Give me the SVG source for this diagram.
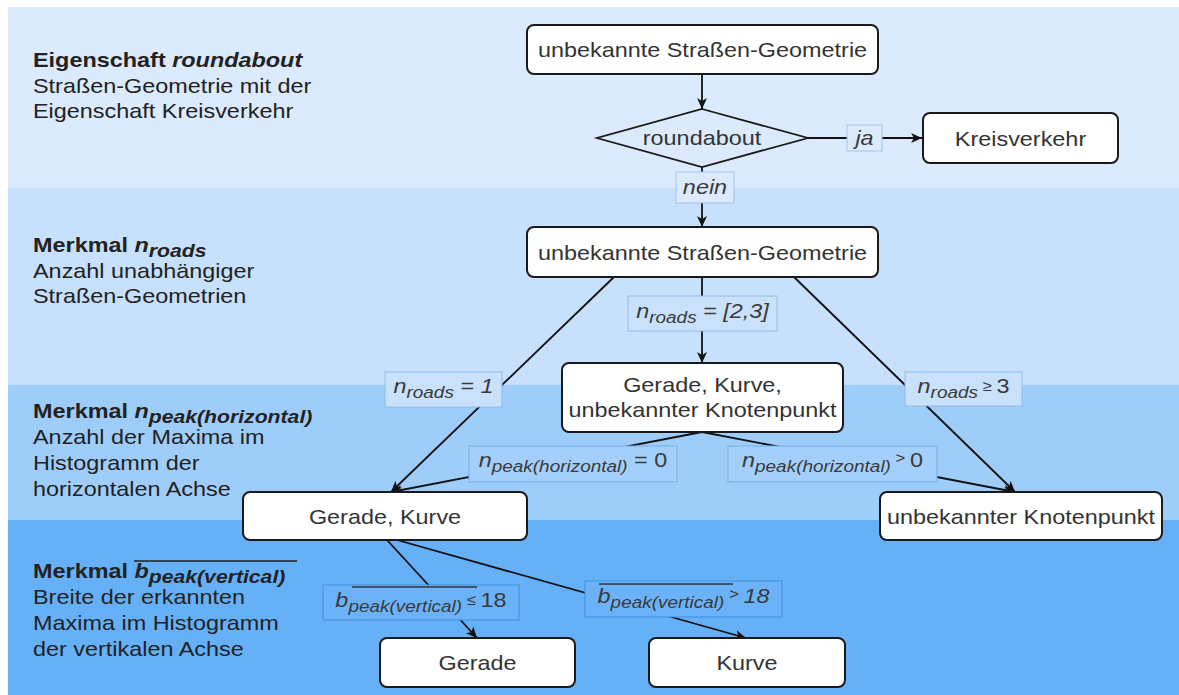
<svg xmlns="http://www.w3.org/2000/svg" width="1179" height="695" viewBox="0 0 1179 695">
  <style>
    .f{font-family:"Liberation Sans",Arial,sans-serif}
    .nt{font-size:21px;fill:#333;text-anchor:middle}
    .lt{font-size:21px;fill:#3a3a3a;font-style:italic;text-anchor:middle}
    .side{font-size:21px;fill:#222}
    .b{font-weight:bold}
    .i{font-style:italic}
    .up{font-style:normal}
    .ls{font-size:17px}
    .ss{font-size:19px}
    .rel{font-size:15px}
    .box{fill:#fff;stroke:#1a1a1a;stroke-width:2}
    .conn line{stroke:#111;stroke-width:1.8;fill:none}
    .lb1{fill:#dbeafc;stroke:#9fc4ec;stroke-width:1}
    .lb2{fill:#c9e1fa;stroke:#92bce9;stroke-width:1}
    .lb3{fill:#a3cffa;stroke:#77afea;stroke-width:1}
    .lb4{fill:#6bb2f8;stroke:#3f8fe3;stroke-width:1}
    .ov{stroke:#333;stroke-width:1.5}
  </style>
  <defs>
    <marker id="arrow" markerUnits="userSpaceOnUse" markerWidth="12" markerHeight="10" refX="11" refY="5" orient="auto">
      <path d="M0,0 L11,5 L0,10 L3,5 Z" fill="#111"/>
    </marker>
  </defs>

  <!-- horizontal bands -->
  <g id="bands">
    <rect x="8" y="7" width="1171" height="181" fill="#dbeafc"/>
    <rect x="8" y="188" width="1171" height="197" fill="#c7e0fb"/>
    <rect x="8" y="385" width="1171" height="135" fill="#9fcdfa"/>
    <rect x="8" y="520" width="1171" height="175" fill="#66b0f8"/>
  </g>

  <!-- band descriptions -->
  <g id="desc-roundabout" class="f side">
    <text transform="translate(33 67) scale(1.115 1)"><tspan class="b">Eigenschaft </tspan><tspan class="b i">roundabout</tspan></text>
    <text transform="translate(33 92.5) scale(1.115 1)">Straßen-Geometrie mit der</text>
    <text transform="translate(33 118) scale(1.115 1)">Eigenschaft Kreisverkehr</text>
  </g>
  <g id="desc-nroads" class="f side">
    <text transform="translate(33 252) scale(1.115 1)"><tspan class="b">Merkmal </tspan><tspan class="b i">n</tspan><tspan class="b i ss" dy="5">roads</tspan></text>
    <text transform="translate(33 277.5) scale(1.115 1)">Anzahl unabhängiger</text>
    <text transform="translate(33 303) scale(1.115 1)">Straßen-Geometrien</text>
  </g>
  <g id="desc-npeak" class="f side">
    <text transform="translate(33 418) scale(1.115 1)"><tspan class="b">Merkmal </tspan><tspan class="b i">n</tspan><tspan class="b i ss" dy="5">peak(horizontal)</tspan></text>
    <text transform="translate(33 444) scale(1.115 1)">Anzahl der Maxima im</text>
    <text transform="translate(33 470) scale(1.115 1)">Histogramm der</text>
    <text transform="translate(33 496) scale(1.115 1)">horizontalen Achse</text>
  </g>
  <g id="desc-bpeak" class="f side">
    <text transform="translate(33 578) scale(1.115 1)"><tspan class="b">Merkmal </tspan><tspan class="b i">b</tspan><tspan class="b i ss" dy="5">peak(vertical)</tspan></text>
    <line x1="134" y1="561" x2="297" y2="561" stroke="#222" stroke-width="1.6"/>
    <text transform="translate(33 604) scale(1.115 1)">Breite der erkannten</text>
    <text transform="translate(33 630) scale(1.115 1)">Maxima im Histogramm</text>
    <text transform="translate(33 656) scale(1.115 1)">der vertikalen Achse</text>
  </g>

  <!-- connectors -->
  <g id="connectors" class="conn">
    <line x1="702" y1="74" x2="702" y2="109" marker-end="url(#arrow)"/>
    <line x1="808" y1="138" x2="922" y2="138" marker-end="url(#arrow)"/>
    <line x1="702" y1="167" x2="702" y2="227" marker-end="url(#arrow)"/>
    <line x1="702" y1="277" x2="702" y2="363" marker-end="url(#arrow)"/>
    <line x1="614" y1="277" x2="391" y2="492" marker-end="url(#arrow)"/>
    <line x1="794" y1="277" x2="1015" y2="492" marker-end="url(#arrow)"/>
    <line x1="702" y1="432" x2="391" y2="492" marker-end="url(#arrow)"/>
    <line x1="702" y1="432" x2="1015" y2="492" marker-end="url(#arrow)"/>
    <line x1="387" y1="540" x2="477" y2="638" marker-end="url(#arrow)"/>
    <line x1="397" y1="540" x2="746" y2="638" marker-end="url(#arrow)"/>
  </g>

  <!-- edge labels -->
  <g id="label-ja" class="f">
    <rect class="lb1" x="847" y="125" width="35" height="26"/>
    <text class="lt" transform="translate(864.5 145) scale(1.115 1)">ja</text>
  </g>
  <g id="label-nein" class="f">
    <rect class="lb1" x="676" y="172" width="58" height="31"/>
    <text class="lt" transform="translate(705 194) scale(1.115 1)">nein</text>
  </g>
  <g id="label-nroads-23" class="f">
    <rect class="lb2" x="628" y="296" width="149" height="35"/>
    <text class="lt" transform="translate(702.5 318) scale(1.115 1)">n<tspan class="ls" dy="5">roads</tspan><tspan dy="-5"> = [2,3]</tspan></text>
  </g>
  <g id="label-nroads-1" class="f">
    <rect class="lb2" x="385" y="372" width="117" height="35"/>
    <text class="lt" transform="translate(443.5 393) scale(1.115 1)">n<tspan class="ls" dy="5">roads</tspan><tspan dy="-5"> = 1</tspan></text>
  </g>
  <g id="label-nroads-3" class="f">
    <rect class="lb2" x="905" y="372" width="117" height="34"/>
    <text class="lt" transform="translate(963.5 393) scale(1.115 1)">n<tspan class="ls" dy="5">roads</tspan><tspan class="up rel" dy="-7"> ≥ </tspan><tspan class="up" dy="2">3</tspan></text>
  </g>
  <g id="label-npeak-0" class="f">
    <rect class="lb3" x="469" y="446" width="208" height="36"/>
    <text class="lt" transform="translate(573 467) scale(1.115 1)">n<tspan class="ls" dy="5">peak(horizontal)</tspan><tspan class="up" dy="-5"> = 0</tspan></text>
  </g>
  <g id="label-npeak-gt0" class="f">
    <rect class="lb3" x="728" y="446" width="209" height="36"/>
    <text class="lt" transform="translate(832.5 467) scale(1.115 1)">n<tspan class="ls" dy="5">peak(horizontal)</tspan><tspan class="up rel" dy="-9"> &gt; </tspan><tspan class="up" dy="4">0</tspan></text>
  </g>
  <g id="label-bpeak-le18" class="f">
    <rect class="lb4" x="323" y="585" width="196" height="35"/>
    <text class="lt" transform="translate(421 607) scale(1.115 1)">b<tspan class="ls" dy="5">peak(vertical)</tspan><tspan class="up rel" dy="-7"> ≤ </tspan><tspan class="up" dy="2">18</tspan></text>
    <line class="ov" x1="352" y1="587" x2="477" y2="587"/>
  </g>
  <g id="label-bpeak-gt18" class="f">
    <rect class="lb4" x="585" y="581" width="197" height="36"/>
    <text class="lt" transform="translate(683.5 603) scale(1.115 1)">b<tspan class="ls" dy="5">peak(vertical)</tspan><tspan class="rel" dy="-9"> &gt; </tspan><tspan dy="4">18</tspan></text>
    <line class="ov" x1="599" y1="584" x2="733" y2="584"/>
  </g>

  <!-- nodes -->
  <g id="node-start" class="f">
    <rect class="box" x="527" y="25" width="351" height="49" rx="7"/>
    <text class="nt" transform="translate(702.5 57) scale(1.115 1)">unbekannte Straßen-Geometrie</text>
  </g>
  <g id="node-roundabout" class="f">
    <polygon points="702,109 808,138 702,167 597,138" fill="none" stroke="#1a1a1a" stroke-width="1.8"/>
    <text class="nt" transform="translate(702 145) scale(1.115 1)">roundabout</text>
  </g>
  <g id="node-kreisverkehr" class="f">
    <rect class="box" x="923" y="113" width="195" height="50" rx="7"/>
    <text class="nt" transform="translate(1020.5 145.5) scale(1.115 1)">Kreisverkehr</text>
  </g>
  <g id="node-geometry" class="f">
    <rect class="box" x="527" y="227" width="351" height="50" rx="7"/>
    <text class="nt" transform="translate(702.5 259.5) scale(1.115 1)">unbekannte Straßen-Geometrie</text>
  </g>
  <g id="node-mixed" class="f">
    <rect class="box" x="562" y="363" width="281" height="69" rx="7"/>
    <text class="nt" transform="translate(702.5 392) scale(1.115 1)">Gerade, Kurve,</text>
    <text class="nt" transform="translate(702.5 417) scale(1.115 1)">unbekannter Knotenpunkt</text>
  </g>
  <g id="node-gerade-kurve" class="f">
    <rect class="box" x="243" y="492" width="284" height="48" rx="7"/>
    <text class="nt" transform="translate(385 523.5) scale(1.115 1)">Gerade, Kurve</text>
  </g>
  <g id="node-knotenpunkt" class="f">
    <rect class="box" x="880" y="492" width="282" height="48" rx="7"/>
    <text class="nt" transform="translate(1021 523.5) scale(1.115 1)">unbekannter Knotenpunkt</text>
  </g>
  <g id="node-gerade" class="f">
    <rect class="box" x="380" y="638" width="195" height="49" rx="7"/>
    <text class="nt" transform="translate(477.5 670) scale(1.115 1)">Gerade</text>
  </g>
  <g id="node-kurve" class="f">
    <rect class="box" x="649" y="638" width="196" height="49" rx="7"/>
    <text class="nt" transform="translate(747 670) scale(1.115 1)">Kurve</text>
  </g>
</svg>
